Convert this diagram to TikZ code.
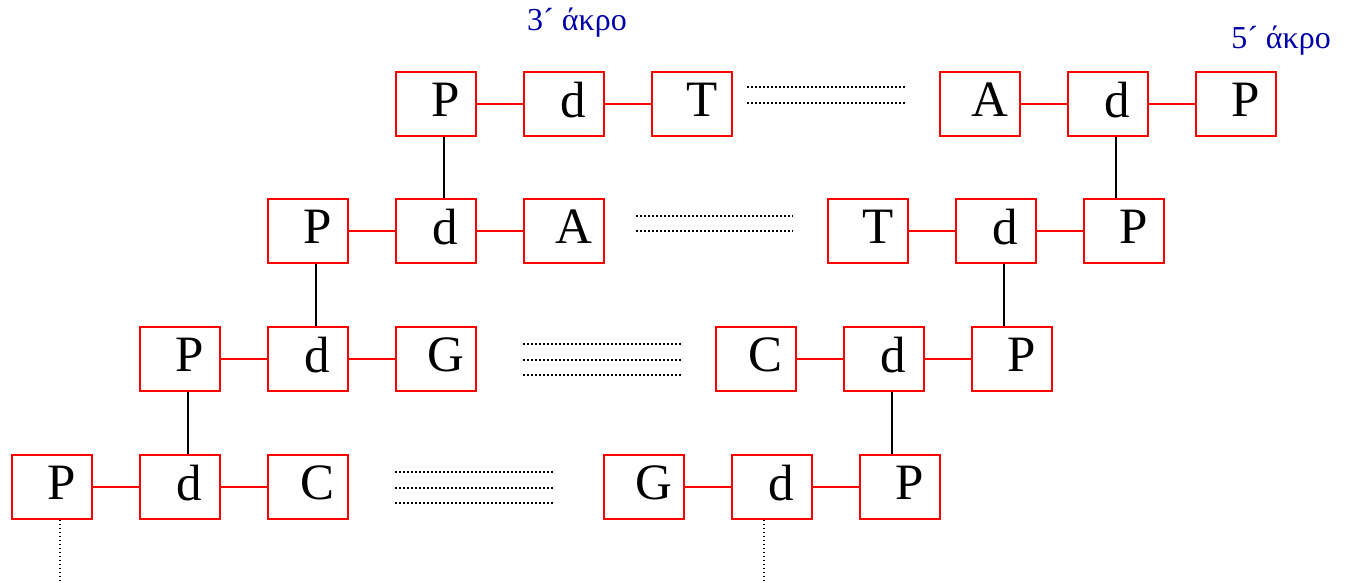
\documentclass[tikz,border=0pt]{standalone}
\usepackage{fontspec}
\setmainfont{Liberation Serif}
\definecolor{lblue}{RGB}{0,0,170}
\begin{document}
\begin{tikzpicture}[x=1pt,y=-1pt,
  box/.style={draw=red, line width=1.8pt, minimum width=80pt, minimum height=64pt,
    inner sep=0pt, font=\fontsize{51}{51}\selectfont, text depth=8pt},
  rlink/.style={draw=red, line width=1.8pt},
  blink/.style={draw=black, line width=1.4pt},
  dotl/.style={draw=black, line width=1.5pt, dash pattern=on 1.5pt off 2.5pt},
  lab/.style={text=lblue, font=\fontsize{32}{32}\selectfont, inner sep=0pt}]
\useasboundingbox (0,0) rectangle (1347,582);
% row 1
\node[box] (P1a) at (436,104) {\hspace*{20pt}P};
\node[box] (d1a) at (564,104) {\hspace*{18pt}d};
\node[box] (T1)  at (692,104) {\hspace*{20pt}T};
\node[box] (A1)  at (980,104) {\hspace*{20pt}A};
\node[box] (d1b) at (1108,104) {\hspace*{18pt}d};
\node[box] (P1b) at (1236,104) {\hspace*{20pt}P};
% row 2
\node[box] (P2a) at (308,231) {\hspace*{20pt}P};
\node[box] (d2a) at (436,231) {\hspace*{18pt}d};
\node[box] (A2)  at (564,231) {\hspace*{20pt}A};
\node[box] (T2)  at (868,231) {\hspace*{20pt}T};
\node[box] (d2b) at (996,231) {\hspace*{18pt}d};
\node[box] (P2b) at (1124,231) {\hspace*{20pt}P};
% row 3
\node[box] (P3a) at (180,359) {\hspace*{20pt}P};
\node[box] (d3a) at (308,359) {\hspace*{18pt}d};
\node[box] (G3)  at (436,359) {\hspace*{20pt}G};
\node[box] (C3)  at (756,359) {\hspace*{20pt}C};
\node[box] (d3b) at (884,359) {\hspace*{18pt}d};
\node[box] (P3b) at (1012,359) {\hspace*{20pt}P};
% row 4
\node[box] (P4a) at (52,487) {\hspace*{20pt}P};
\node[box] (d4a) at (180,487) {\hspace*{18pt}d};
\node[box] (C4)  at (308,487) {\hspace*{20pt}C};
\node[box] (G4)  at (644,487) {\hspace*{20pt}G};
\node[box] (d4b) at (772,487) {\hspace*{18pt}d};
\node[box] (P4b) at (900,487) {\hspace*{20pt}P};
% red links
\draw[rlink] (P1a) -- (d1a); \draw[rlink] (d1a) -- (T1);
\draw[rlink] (A1) -- (d1b); \draw[rlink] (d1b) -- (P1b);
\draw[rlink] (P2a) -- (d2a); \draw[rlink] (d2a) -- (A2);
\draw[rlink] (T2) -- (d2b); \draw[rlink] (d2b) -- (P2b);
\draw[rlink] (P3a) -- (d3a); \draw[rlink] (d3a) -- (G3);
\draw[rlink] (C3) -- (d3b); \draw[rlink] (d3b) -- (P3b);
\draw[rlink] (P4a) -- (d4a); \draw[rlink] (d4a) -- (C4);
\draw[rlink] (G4) -- (d4b); \draw[rlink] (d4b) -- (P4b);
% black vertical links
\draw[blink] ([xshift=8pt]P1a.south) -- ([xshift=8pt]d2a.north);
\draw[blink] ([xshift=8pt]P2a.south) -- ([xshift=8pt]d3a.north);
\draw[blink] ([xshift=8pt]P3a.south) -- ([xshift=8pt]d4a.north);
\draw[blink] ([xshift=8pt]d1b.south) -- ([xshift=-8pt]P2b.north);
\draw[blink] ([xshift=8pt]d2b.south) -- ([xshift=-8pt]P3b.north);
\draw[blink] ([xshift=8pt]d3b.south) -- ([xshift=-8pt]P4b.north);
% dangling dotted verticals
\coordinate (e1) at (60,582);
\coordinate (e2) at (764,582);
\draw[dotl] ([xshift=8pt]P4a.south) -- (e1);
\draw[dotl] ([xshift=-8pt]d4b.south) -- (e2);
% dotted gaps
\draw[dotl] (747,87) -- (906,87);
\draw[dotl] (747,103) -- (906,103);
\draw[dotl] (636,216) -- (793,216);
\draw[dotl] (636,231) -- (793,231);
\draw[dotl] (523,344) -- (682,344);
\draw[dotl] (523,360) -- (682,360);
\draw[dotl] (523,375) -- (682,375);
\draw[dotl] (395,472) -- (554,472);
\draw[dotl] (395,488) -- (554,488);
\draw[dotl] (395,503) -- (554,503);
% labels
\node[lab] (lab3) at (577,23) {3´ άκρο};
\node[lab] (lab5) at (1281,41) {5´ άκρο};
\end{tikzpicture}
\end{document}
